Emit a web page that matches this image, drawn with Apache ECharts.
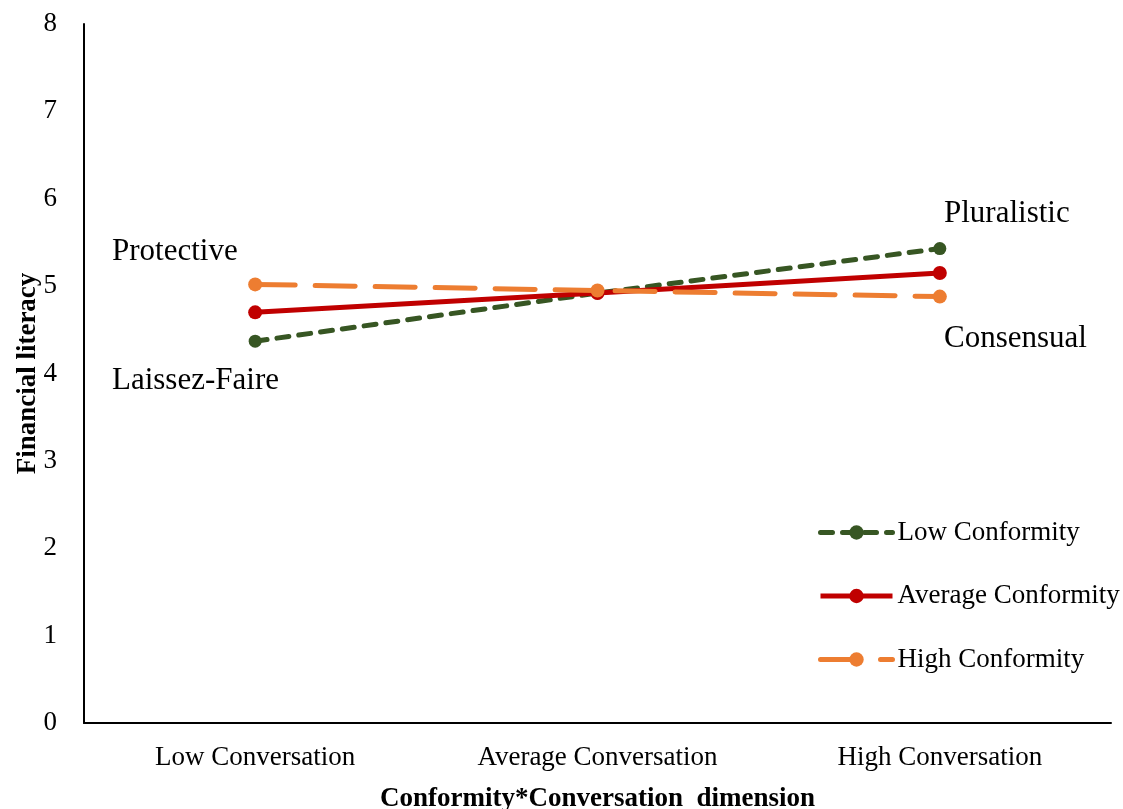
<!DOCTYPE html>
<html><head><meta charset="utf-8">
<script src="https://cdn.jsdelivr.net/npm/echarts@6/dist/echarts.min.js"></script>
<style>html,body{margin:0;padding:0;background:#fff}#c{width:1123px;height:809px}</style>
</head><body><div id="c"></div>
<script>
const categories = ['Low Conversation', 'Average Conversation', 'High Conversation'];
const lowConformity = [4.37, 4.92, 5.43];
const avgConformity = [4.70, 4.92, 5.15];
const highConformity = [5.02, 4.95, 4.88];
const yTicks = [0, 1, 2, 3, 4, 5, 6, 7, 8];
const seriesNames = ['Low Conformity', 'Average Conformity', 'High Conformity'];

const font = '"Liberation Serif", "Times New Roman", serif';
const green = '#375623', red = '#C00000', orange = '#ED7D31';
const greenDash = [12, 10], orangeDash = [40, 20];
const chart = echarts.init(document.getElementById('c'));
chart.setOption({
  backgroundColor: '#fff',
  animation: false,
  grid: { left: 84, right: 12, top: 24, bottom: 86, containLabel: false, outerBoundsMode: 'none' },
  xAxis: {
    type: 'category', data: categories, boundaryGap: true,
    axisLine: { lineStyle: { color: '#000', width: 2 } },
    axisTick: { show: false },
    axisLabel: { color: '#000', fontFamily: font, fontSize: 27, margin: 21 },
    name: 'Conformity*Conversation  dimension', nameLocation: 'middle', nameGap: 63,
    nameMoveOverlap: false,
    nameTextStyle: { color: '#000', fontFamily: font, fontSize: 27, fontWeight: 'bold' }
  },
  yAxis: {
    type: 'value', min: yTicks[0], max: yTicks[yTicks.length - 1], interval: 1,
    axisLine: { show: true, lineStyle: { color: '#000', width: 2 } },
    axisTick: { show: false },
    splitLine: { show: false },
    axisLabel: { color: '#000', fontFamily: font, fontSize: 27, margin: 27 },
    name: 'Financial literacy', nameLocation: 'middle', nameGap: 42,
    nameMoveOverlap: false,
    nameTextStyle: { color: '#000', fontFamily: font, fontSize: 27, fontWeight: 'bold' }
  },
  legend: {
    orient: 'vertical', left: 818, top: 519, itemGap: 36.5, itemWidth: 72, itemHeight: 18, padding: 0,
    textStyle: { color: '#000', fontFamily: font, fontSize: 27 },
    data: [
      { name: seriesNames[0], lineStyle: { width: 5, type: greenDash, cap: 'round' } },
      { name: seriesNames[1], lineStyle: { width: 5, type: 'solid' } },
      { name: seriesNames[2], lineStyle: { width: 5, type: orangeDash, cap: 'round' } }
    ]
  },
  series: [
    { name: seriesNames[0], type: 'line', data: lowConformity, symbol: 'circle', symbolSize: 13,
      itemStyle: { color: green },
      lineStyle: { color: green, width: 5, type: greenDash, cap: 'round' }, z: 2 },
    { name: seriesNames[1], type: 'line', data: avgConformity, symbol: 'circle', symbolSize: 14,
      itemStyle: { color: red },
      lineStyle: { color: red, width: 5, type: 'solid' }, z: 3 },
    { name: seriesNames[2], type: 'line', data: highConformity, symbol: 'circle', symbolSize: 14,
      itemStyle: { color: orange },
      lineStyle: { color: orange, width: 5, type: orangeDash, cap: 'round' }, z: 4 }
  ],
  graphic: [
    { type: 'text', left: 112, top: 236, style: { text: 'Protective', font: '31px ' + font, fill: '#000' } },
    { type: 'text', left: 112, top: 365, style: { text: 'Laissez-Faire', font: '31px ' + font, fill: '#000' } },
    { type: 'text', left: 944, top: 198, style: { text: 'Pluralistic', font: '31px ' + font, fill: '#000' } },
    { type: 'text', left: 944, top: 323, style: { text: 'Consensual', font: '31px ' + font, fill: '#000' } }
  ]
});
</script></body></html>
